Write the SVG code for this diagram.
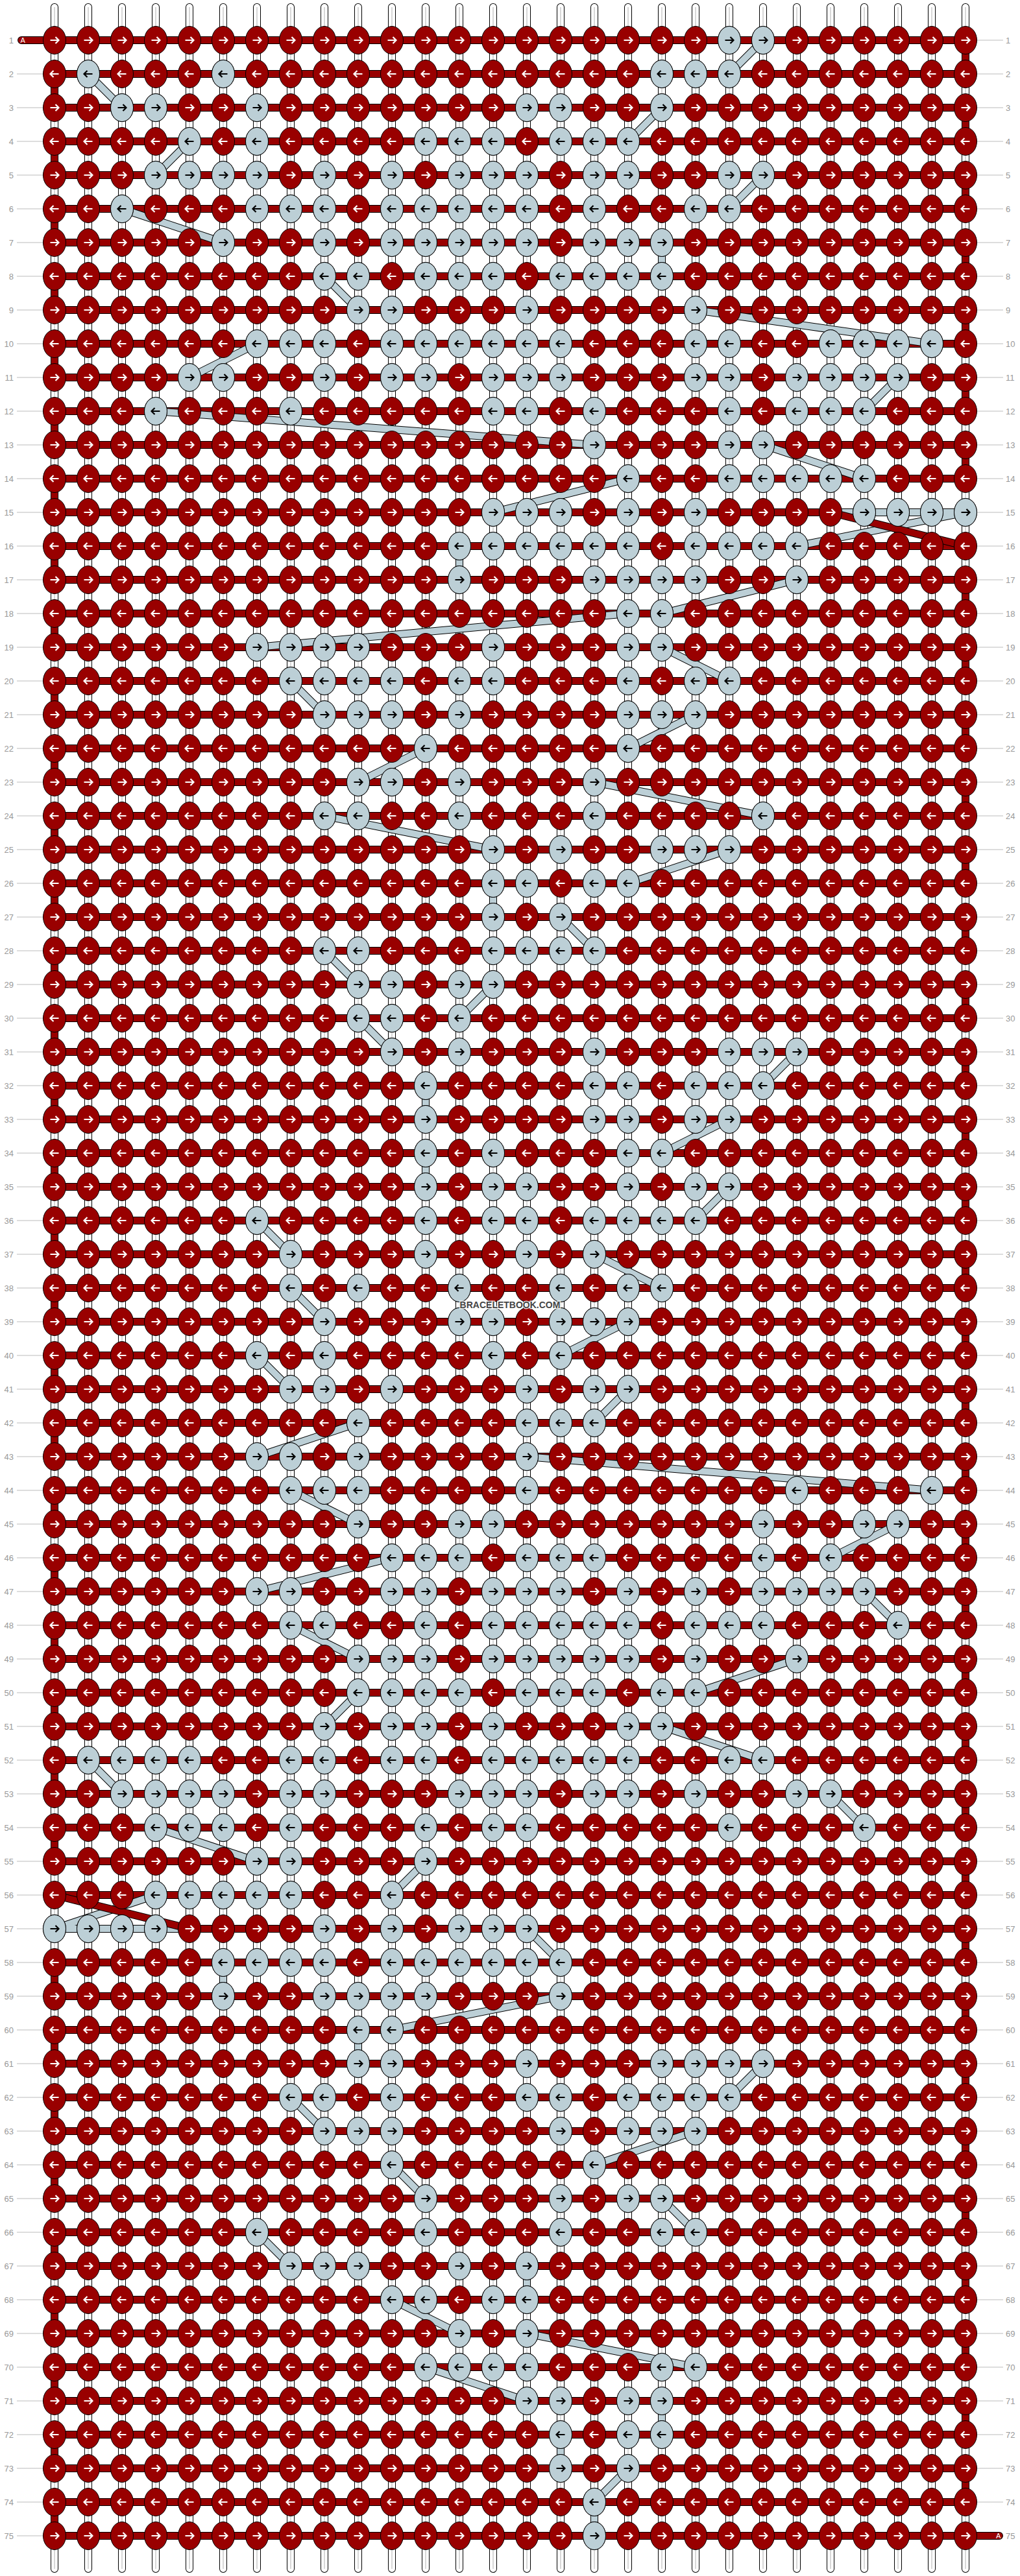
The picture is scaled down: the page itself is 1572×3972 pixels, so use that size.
<svg xmlns="http://www.w3.org/2000/svg" width="1572" height="3972" viewBox="0 0 1572 3972">
<style>
text{font-family:"Liberation Sans",Arial,sans-serif}
.n{font-size:13px;fill:#999}
.ne{text-anchor:end}
.al{font-size:11px;fill:#fff}
.wm{font-size:14px;font-weight:bold;fill:#444;stroke:#fff;stroke-width:3;stroke-opacity:.8;paint-order:stroke;text-anchor:middle}
.ol{fill:none;stroke:#000;stroke-width:12}
.sw{fill:none;stroke:#fff;stroke-width:10}
.sr{fill:none;stroke:#990000;stroke-width:10}
.sl{fill:none;stroke:#bccfd6;stroke-width:10}
.gl{fill:none;stroke:#b0b0b0;stroke-width:1}
.rl{fill:none;stroke:#bbb;stroke-width:1}
.rc{stroke-linecap:round}
</style>
<defs>
<g id="d"><ellipse rx="17.5" ry="21.5" fill="#990000" stroke="#000"/><path d="M-6.5 0H6M1.5-5L6.5 0L1.5 5" fill="none" stroke="#fff" stroke-width="2.2"/></g>
<g id="e"><ellipse rx="17.5" ry="21.5" fill="#990000" stroke="#000"/><path d="M6.5 0H-6M-1.5-5L-6.5 0L-1.5 5" fill="none" stroke="#fff" stroke-width="2.2"/></g>
<g id="a"><ellipse rx="17.5" ry="21.5" fill="#bccfd6" stroke="#000"/><path d="M-6.5 0H6M1.5-5L6.5 0L1.5 5" fill="none" stroke="#000" stroke-width="2.2"/></g>
<g id="b"><ellipse rx="17.5" ry="21.5" fill="#bccfd6" stroke="#000"/><path d="M6.5 0H-6M-1.5-5L-6.5 0L-1.5 5" fill="none" stroke="#000" stroke-width="2.2"/></g>
<g id="R"><use href="#d" x="84"/><use href="#d" x="136"/><use href="#d" x="188"/><use href="#d" x="240"/><use href="#d" x="292"/><use href="#d" x="344"/><use href="#d" x="396"/><use href="#d" x="448"/><use href="#d" x="500"/><use href="#d" x="552"/><use href="#d" x="604"/><use href="#d" x="656"/><use href="#d" x="708"/><use href="#d" x="760"/><use href="#d" x="812"/><use href="#d" x="864"/><use href="#d" x="916"/><use href="#d" x="968"/><use href="#d" x="1020"/><use href="#d" x="1072"/><use href="#d" x="1124"/><use href="#d" x="1176"/><use href="#d" x="1228"/><use href="#d" x="1280"/><use href="#d" x="1332"/><use href="#d" x="1384"/><use href="#d" x="1436"/><use href="#d" x="1488"/></g>
<g id="L"><use href="#e" x="84"/><use href="#e" x="136"/><use href="#e" x="188"/><use href="#e" x="240"/><use href="#e" x="292"/><use href="#e" x="344"/><use href="#e" x="396"/><use href="#e" x="448"/><use href="#e" x="500"/><use href="#e" x="552"/><use href="#e" x="604"/><use href="#e" x="656"/><use href="#e" x="708"/><use href="#e" x="760"/><use href="#e" x="812"/><use href="#e" x="864"/><use href="#e" x="916"/><use href="#e" x="968"/><use href="#e" x="1020"/><use href="#e" x="1072"/><use href="#e" x="1124"/><use href="#e" x="1176"/><use href="#e" x="1228"/><use href="#e" x="1280"/><use href="#e" x="1332"/><use href="#e" x="1384"/><use href="#e" x="1436"/><use href="#e" x="1488"/></g>
<path id="vs" d="M84 11V3961M136 11V3961M188 11V3961M240 11V3961M292 11V3961M344 11V3961M396 11V3961M448 11V3961M500 11V3961M552 11V3961M604 11V3961M656 11V3961M708 11V3961M760 11V3961M812 11V3961M864 11V3961M916 11V3961M968 11V3961M1020 11V3961M1072 11V3961M1124 11V3961M1176 11V3961M1228 11V3961M1280 11V3961M1332 11V3961M1384 11V3961M1436 11V3961M1488 11V3961"/>
<path id="hb" d="M84 62H1488M84 114H1488M84 166H1488M84 218H1488M84 270H1488M84 322H1488M84 374H1488M84 426H1488M84 478H1488M84 530H1488M84 582H1488M84 634H1488M84 686H1488M84 738H1488M84 790H1280M84 842H1488M84 894H1488M84 946H1488M84 998H1488M84 1050H1488M84 1102H1488M84 1154H1488M84 1206H1488M84 1258H1488M84 1310H1488M84 1362H1488M84 1414H1488M84 1466H1488M84 1518H1488M84 1570H1488M84 1622H1488M84 1674H1488M84 1726H1488M84 1778H1488M84 1830H1488M84 1882H1488M84 1934H1488M84 1986H1488M84 2038H1488M84 2090H1488M84 2142H1488M84 2194H1488M84 2246H1488M84 2298H1488M84 2350H1488M84 2402H1488M84 2454H1488M84 2506H1488M84 2558H1488M84 2610H1488M84 2662H1488M84 2714H1488M84 2766H1488M84 2818H1488M84 2870H1488M84 2922H1488M292 2974H1488M84 3026H1488M84 3078H1488M84 3130H1488M84 3182H1488M84 3234H1488M84 3286H1488M84 3338H1488M84 3390H1488M84 3442H1488M84 3494H1488M84 3546H1488M84 3598H1488M84 3650H1488M84 3702H1488M84 3754H1488M84 3806H1488M84 3858H1488M84 3910H1488"/>
<path id="ab" d="M33 62H84M1488 3910H1540"/>
<path id="ec" d="M1488 62V114M1488 166V218M1488 270V322M1488 374V426M1488 478V530M1488 582V634M1488 686V738M1488 894V946M1488 998V1050M1488 1102V1154M1488 1206V1258M1488 1310V1362M1488 1414V1466M1488 1518V1570M1488 1622V1674M1488 1726V1778M1488 1830V1882M1488 1934V1986M1488 2038V2090M1488 2142V2194M1488 2246V2298M1488 2350V2402M1488 2454V2506M1488 2558V2610M1488 2662V2714M1488 2766V2818M1488 2870V2922M1488 2974V3026M1488 3078V3130M1488 3182V3234M1488 3286V3338M1488 3390V3442M1488 3494V3546M1488 3598V3650M1488 3702V3754M1488 3806V3858M84 114V166M84 218V270M84 322V374M84 426V478M84 530V582M84 634V686M84 738V790M84 842V894M84 946V998M84 1050V1102M84 1154V1206M84 1258V1310M84 1362V1414M84 1466V1518M84 1570V1622M84 1674V1726M84 1778V1830M84 1882V1934M84 1986V2038M84 2090V2142M84 2194V2246M84 2298V2350M84 2402V2454M84 2506V2558M84 2610V2662M84 2714V2766M84 2818V2870M84 3026V3078M84 3130V3182M84 3234V3286M84 3338V3390M84 3442V3494M84 3546V3598M84 3650V3702M84 3754V3806M84 3858V3910"/>
<path id="lc" d="M1280 790H1488M84 2974H292M1176 62L1124 114M136 114L188 166M1020 166L968 218M292 218L240 270M1176 270L1124 322M188 322L344 374M1020 374L1020 426M500 426L552 478M1072 478L1436 530M396 530L292 582M1384 582L1332 634M240 634L916 686M1176 686L1332 738M968 738L760 790M1488 790L1228 842M708 842L708 894M1228 894L1020 946M968 946L396 998M1020 998L1124 1050M448 1050L500 1102M1072 1102L968 1154M656 1154L552 1206M916 1206L1176 1258M500 1258L760 1310M1124 1310L968 1362M760 1362L760 1414M864 1414L916 1466M500 1466L552 1518M760 1518L708 1570M552 1570L604 1622M1228 1622L1176 1674M656 1674L656 1726M1124 1726L1020 1778M656 1778L656 1830M1124 1830L1072 1882M396 1882L448 1934M916 1934L1020 1986M448 1986L500 2038M968 2038L864 2090M396 2090L448 2142M968 2142L916 2194M552 2194L396 2246M812 2246L1436 2298M448 2298L552 2350M1384 2350L1280 2402M604 2402L396 2454M1332 2454L1384 2506M448 2506L552 2558M1228 2558L1072 2610M552 2610L500 2662M1020 2662L1176 2714M136 2714L188 2766M1280 2766L1332 2818M240 2818L396 2870M656 2870L604 2922M240 2922L84 2974M812 2974L864 3026M344 3026L344 3078M864 3078L604 3130M552 3130L552 3182M1176 3182L1124 3234M448 3234L500 3286M1072 3286L916 3338M604 3338L656 3390M1020 3390L1072 3442M396 3442L448 3494M812 3494L812 3546M604 3546L708 3598M812 3598L1072 3650M656 3650L812 3702M1020 3702L1020 3754M864 3754L864 3806M968 3806L916 3858M916 3858L916 3910"/>
<path id="rd" d="M1280 790L1488 842M84 2922L292 2974"/>
</defs>
<rect width="1572" height="3972" fill="#fff"/>
<g id="strings">
<use href="#vs" class="ol rc"/>
<use href="#vs" class="sw rc"/>
<use href="#vs" class="gl"/>
</g>
<g id="labels">
<path class="rl" d="M26 114H66M26 166H66M26 218H66M26 270H66M26 322H66M26 374H66M26 426H66M26 478H66M26 530H66M26 582H66M26 634H66M26 686H66M26 738H66M26 790H66M26 842H66M26 894H66M26 946H66M26 998H66M26 1050H66M26 1102H66M26 1154H66M26 1206H66M26 1258H66M26 1310H66M26 1362H66M26 1414H66M26 1466H66M26 1518H66M26 1570H66M26 1622H66M26 1674H66M26 1726H66M26 1778H66M26 1830H66M26 1882H66M26 1934H66M26 1986H66M26 2038H66M26 2090H66M26 2142H66M26 2194H66M26 2246H66M26 2298H66M26 2350H66M26 2402H66M26 2454H66M26 2506H66M26 2558H66M26 2610H66M26 2662H66M26 2714H66M26 2766H66M26 2818H66M26 2870H66M26 2922H66M26 2974H66M26 3026H66M26 3078H66M26 3130H66M26 3182H66M26 3234H66M26 3286H66M26 3338H66M26 3390H66M26 3442H66M26 3494H66M26 3546H66M26 3598H66M26 3650H66M26 3702H66M26 3754H66M26 3806H66M26 3858H66M26 3910H66"/>
<path class="rl" d="M1506 62H1546M1506 114H1546M1506 166H1546M1506 218H1546M1506 270H1546M1506 322H1546M1506 374H1546M1506 426H1546M1506 478H1546M1506 530H1546M1506 582H1546M1506 634H1546M1506 686H1546M1506 738H1546M1506 790H1546M1506 842H1546M1506 894H1546M1506 946H1546M1506 998H1546M1506 1050H1546M1506 1102H1546M1506 1154H1546M1506 1206H1546M1506 1258H1546M1506 1310H1546M1506 1362H1546M1506 1414H1546M1506 1466H1546M1506 1518H1546M1506 1570H1546M1506 1622H1546M1506 1674H1546M1506 1726H1546M1506 1778H1546M1506 1830H1546M1506 1882H1546M1506 1934H1546M1506 1986H1546M1506 2038H1546M1506 2090H1546M1506 2142H1546M1506 2194H1546M1506 2246H1546M1506 2298H1546M1506 2350H1546M1506 2402H1546M1506 2454H1546M1506 2506H1546M1506 2558H1546M1506 2610H1546M1506 2662H1546M1506 2714H1546M1506 2766H1546M1506 2818H1546M1506 2870H1546M1506 2922H1546M1506 2974H1546M1506 3026H1546M1506 3078H1546M1506 3130H1546M1506 3182H1546M1506 3234H1546M1506 3286H1546M1506 3338H1546M1506 3390H1546M1506 3442H1546M1506 3494H1546M1506 3546H1546M1506 3598H1546M1506 3650H1546M1506 3702H1546M1506 3754H1546M1506 3806H1546M1506 3858H1546"/>
<g class="n ne">
<text x="21" y="66.5">1</text><text x="21" y="118.5">2</text><text x="21" y="170.5">3</text><text x="21" y="222.5">4</text><text x="21" y="274.5">5</text><text x="21" y="326.5">6</text><text x="21" y="378.5">7</text><text x="21" y="430.5">8</text><text x="21" y="482.5">9</text><text x="21" y="534.5">10</text><text x="21" y="586.5">11</text><text x="21" y="638.5">12</text><text x="21" y="690.5">13</text><text x="21" y="742.5">14</text><text x="21" y="794.5">15</text><text x="21" y="846.5">16</text><text x="21" y="898.5">17</text><text x="21" y="950.5">18</text><text x="21" y="1002.5">19</text><text x="21" y="1054.5">20</text><text x="21" y="1106.5">21</text><text x="21" y="1158.5">22</text><text x="21" y="1210.5">23</text><text x="21" y="1262.5">24</text><text x="21" y="1314.5">25</text><text x="21" y="1366.5">26</text><text x="21" y="1418.5">27</text><text x="21" y="1470.5">28</text><text x="21" y="1522.5">29</text><text x="21" y="1574.5">30</text><text x="21" y="1626.5">31</text><text x="21" y="1678.5">32</text><text x="21" y="1730.5">33</text><text x="21" y="1782.5">34</text><text x="21" y="1834.5">35</text><text x="21" y="1886.5">36</text><text x="21" y="1938.5">37</text><text x="21" y="1990.5">38</text><text x="21" y="2042.5">39</text><text x="21" y="2094.5">40</text><text x="21" y="2146.5">41</text><text x="21" y="2198.5">42</text><text x="21" y="2250.5">43</text><text x="21" y="2302.5">44</text><text x="21" y="2354.5">45</text><text x="21" y="2406.5">46</text><text x="21" y="2458.5">47</text><text x="21" y="2510.5">48</text><text x="21" y="2562.5">49</text><text x="21" y="2614.5">50</text><text x="21" y="2666.5">51</text><text x="21" y="2718.5">52</text><text x="21" y="2770.5">53</text><text x="21" y="2822.5">54</text><text x="21" y="2874.5">55</text><text x="21" y="2926.5">56</text><text x="21" y="2978.5">57</text><text x="21" y="3030.5">58</text><text x="21" y="3082.5">59</text><text x="21" y="3134.5">60</text><text x="21" y="3186.5">61</text><text x="21" y="3238.5">62</text><text x="21" y="3290.5">63</text><text x="21" y="3342.5">64</text><text x="21" y="3394.5">65</text><text x="21" y="3446.5">66</text><text x="21" y="3498.5">67</text><text x="21" y="3550.5">68</text><text x="21" y="3602.5">69</text><text x="21" y="3654.5">70</text><text x="21" y="3706.5">71</text><text x="21" y="3758.5">72</text><text x="21" y="3810.5">73</text><text x="21" y="3862.5">74</text><text x="21" y="3914.5">75</text>
</g>
<g class="n">
<text x="1550" y="66.5">1</text><text x="1550" y="118.5">2</text><text x="1550" y="170.5">3</text><text x="1550" y="222.5">4</text><text x="1550" y="274.5">5</text><text x="1550" y="326.5">6</text><text x="1550" y="378.5">7</text><text x="1550" y="430.5">8</text><text x="1550" y="482.5">9</text><text x="1550" y="534.5">10</text><text x="1550" y="586.5">11</text><text x="1550" y="638.5">12</text><text x="1550" y="690.5">13</text><text x="1550" y="742.5">14</text><text x="1550" y="794.5">15</text><text x="1550" y="846.5">16</text><text x="1550" y="898.5">17</text><text x="1550" y="950.5">18</text><text x="1550" y="1002.5">19</text><text x="1550" y="1054.5">20</text><text x="1550" y="1106.5">21</text><text x="1550" y="1158.5">22</text><text x="1550" y="1210.5">23</text><text x="1550" y="1262.5">24</text><text x="1550" y="1314.5">25</text><text x="1550" y="1366.5">26</text><text x="1550" y="1418.5">27</text><text x="1550" y="1470.5">28</text><text x="1550" y="1522.5">29</text><text x="1550" y="1574.5">30</text><text x="1550" y="1626.5">31</text><text x="1550" y="1678.5">32</text><text x="1550" y="1730.5">33</text><text x="1550" y="1782.5">34</text><text x="1550" y="1834.5">35</text><text x="1550" y="1886.5">36</text><text x="1550" y="1938.5">37</text><text x="1550" y="1990.5">38</text><text x="1550" y="2042.5">39</text><text x="1550" y="2094.5">40</text><text x="1550" y="2146.5">41</text><text x="1550" y="2198.5">42</text><text x="1550" y="2250.5">43</text><text x="1550" y="2302.5">44</text><text x="1550" y="2354.5">45</text><text x="1550" y="2406.5">46</text><text x="1550" y="2458.5">47</text><text x="1550" y="2510.5">48</text><text x="1550" y="2562.5">49</text><text x="1550" y="2614.5">50</text><text x="1550" y="2666.5">51</text><text x="1550" y="2718.5">52</text><text x="1550" y="2770.5">53</text><text x="1550" y="2822.5">54</text><text x="1550" y="2874.5">55</text><text x="1550" y="2926.5">56</text><text x="1550" y="2978.5">57</text><text x="1550" y="3030.5">58</text><text x="1550" y="3082.5">59</text><text x="1550" y="3134.5">60</text><text x="1550" y="3186.5">61</text><text x="1550" y="3238.5">62</text><text x="1550" y="3290.5">63</text><text x="1550" y="3342.5">64</text><text x="1550" y="3394.5">65</text><text x="1550" y="3446.5">66</text><text x="1550" y="3498.5">67</text><text x="1550" y="3550.5">68</text><text x="1550" y="3602.5">69</text><text x="1550" y="3654.5">70</text><text x="1550" y="3706.5">71</text><text x="1550" y="3758.5">72</text><text x="1550" y="3810.5">73</text><text x="1550" y="3862.5">74</text><text x="1550" y="3914.5">75</text>
</g>
</g>
<g id="connectors">
<use href="#hb" class="ol"/>
<use href="#hb" class="sr"/>
<use href="#ab" class="ol rc"/>
<use href="#ab" class="sr rc"/>
<text x="31.5" y="66" class="al">A</text>
<text x="1535" y="3914" class="al">A</text>
<use href="#ec" class="ol"/>
<use href="#ec" class="sr"/>
<use href="#lc" class="ol"/>
<use href="#lc" class="sl"/>
<use href="#rd" class="ol"/>
<use href="#rd" class="sr"/>
</g>
<g id="knots">
<g id="row-1" transform="translate(0 62)"><use href="#R"/><use href="#a" x="1124"/><use href="#a" x="1176"/></g>
<g id="row-2" transform="translate(0 114)"><use href="#L"/><use href="#b" x="136"/><use href="#b" x="344"/><use href="#b" x="1020"/><use href="#b" x="1072"/><use href="#b" x="1124"/></g>
<g id="row-3" transform="translate(0 166)"><use href="#R"/><use href="#a" x="188"/><use href="#a" x="240"/><use href="#a" x="396"/><use href="#a" x="812"/><use href="#a" x="864"/><use href="#a" x="1020"/></g>
<g id="row-4" transform="translate(0 218)"><use href="#L"/><use href="#b" x="292"/><use href="#b" x="396"/><use href="#b" x="656"/><use href="#b" x="708"/><use href="#b" x="760"/><use href="#b" x="864"/><use href="#b" x="916"/><use href="#b" x="968"/></g>
<g id="row-5" transform="translate(0 270)"><use href="#R"/><use href="#a" x="240"/><use href="#a" x="292"/><use href="#a" x="344"/><use href="#a" x="396"/><use href="#a" x="500"/><use href="#a" x="604"/><use href="#a" x="708"/><use href="#a" x="760"/><use href="#a" x="812"/><use href="#a" x="916"/><use href="#a" x="968"/><use href="#a" x="1124"/><use href="#a" x="1176"/></g>
<g id="row-6" transform="translate(0 322)"><use href="#L"/><use href="#b" x="188"/><use href="#b" x="396"/><use href="#b" x="448"/><use href="#b" x="500"/><use href="#b" x="604"/><use href="#b" x="656"/><use href="#b" x="708"/><use href="#b" x="760"/><use href="#b" x="812"/><use href="#b" x="916"/><use href="#b" x="1072"/><use href="#b" x="1124"/></g>
<g id="row-7" transform="translate(0 374)"><use href="#R"/><use href="#a" x="344"/><use href="#a" x="500"/><use href="#a" x="604"/><use href="#a" x="656"/><use href="#a" x="708"/><use href="#a" x="760"/><use href="#a" x="812"/><use href="#a" x="916"/><use href="#a" x="968"/><use href="#a" x="1020"/></g>
<g id="row-8" transform="translate(0 426)"><use href="#L"/><use href="#b" x="500"/><use href="#b" x="552"/><use href="#b" x="656"/><use href="#b" x="708"/><use href="#b" x="760"/><use href="#b" x="864"/><use href="#b" x="916"/><use href="#b" x="968"/><use href="#b" x="1020"/></g>
<g id="row-9" transform="translate(0 478)"><use href="#R"/><use href="#a" x="552"/><use href="#a" x="604"/><use href="#a" x="812"/><use href="#a" x="1072"/></g>
<g id="row-10" transform="translate(0 530)"><use href="#L"/><use href="#b" x="396"/><use href="#b" x="448"/><use href="#b" x="500"/><use href="#b" x="604"/><use href="#b" x="656"/><use href="#b" x="708"/><use href="#b" x="760"/><use href="#b" x="812"/><use href="#b" x="864"/><use href="#b" x="1072"/><use href="#b" x="1124"/><use href="#b" x="1280"/><use href="#b" x="1332"/><use href="#b" x="1384"/><use href="#b" x="1436"/></g>
<g id="row-11" transform="translate(0 582)"><use href="#R"/><use href="#a" x="292"/><use href="#a" x="344"/><use href="#a" x="500"/><use href="#a" x="604"/><use href="#a" x="656"/><use href="#a" x="760"/><use href="#a" x="812"/><use href="#a" x="864"/><use href="#a" x="1072"/><use href="#a" x="1124"/><use href="#a" x="1228"/><use href="#a" x="1280"/><use href="#a" x="1332"/><use href="#a" x="1384"/></g>
<g id="row-12" transform="translate(0 634)"><use href="#L"/><use href="#b" x="240"/><use href="#b" x="448"/><use href="#b" x="760"/><use href="#b" x="812"/><use href="#b" x="916"/><use href="#b" x="1124"/><use href="#b" x="1228"/><use href="#b" x="1280"/><use href="#b" x="1332"/></g>
<g id="row-13" transform="translate(0 686)"><use href="#R"/><use href="#a" x="916"/><use href="#a" x="1124"/><use href="#a" x="1176"/></g>
<g id="row-14" transform="translate(0 738)"><use href="#L"/><use href="#b" x="968"/><use href="#b" x="1124"/><use href="#b" x="1176"/><use href="#b" x="1228"/><use href="#b" x="1280"/><use href="#b" x="1332"/></g>
<g id="row-15" transform="translate(0 790)"><use href="#R"/><use href="#a" x="760"/><use href="#a" x="812"/><use href="#a" x="864"/><use href="#a" x="968"/><use href="#a" x="1072"/><use href="#a" x="1332"/><use href="#a" x="1384"/><use href="#a" x="1436"/><use href="#a" x="1488"/></g>
<g id="row-16" transform="translate(0 842)"><use href="#L"/><use href="#b" x="708"/><use href="#b" x="760"/><use href="#b" x="812"/><use href="#b" x="864"/><use href="#b" x="916"/><use href="#b" x="968"/><use href="#b" x="1072"/><use href="#b" x="1124"/><use href="#b" x="1176"/><use href="#b" x="1228"/></g>
<g id="row-17" transform="translate(0 894)"><use href="#R"/><use href="#a" x="708"/><use href="#a" x="916"/><use href="#a" x="968"/><use href="#a" x="1020"/><use href="#a" x="1072"/><use href="#a" x="1228"/></g>
<g id="row-18" transform="translate(0 946)"><use href="#L"/><use href="#b" x="968"/><use href="#b" x="1020"/></g>
<g id="row-19" transform="translate(0 998)"><use href="#R"/><use href="#a" x="396"/><use href="#a" x="448"/><use href="#a" x="500"/><use href="#a" x="552"/><use href="#a" x="760"/><use href="#a" x="968"/><use href="#a" x="1020"/></g>
<g id="row-20" transform="translate(0 1050)"><use href="#L"/><use href="#b" x="448"/><use href="#b" x="500"/><use href="#b" x="552"/><use href="#b" x="604"/><use href="#b" x="708"/><use href="#b" x="760"/><use href="#b" x="968"/><use href="#b" x="1072"/><use href="#b" x="1124"/></g>
<g id="row-21" transform="translate(0 1102)"><use href="#R"/><use href="#a" x="500"/><use href="#a" x="552"/><use href="#a" x="604"/><use href="#a" x="708"/><use href="#a" x="968"/><use href="#a" x="1020"/><use href="#a" x="1072"/></g>
<g id="row-22" transform="translate(0 1154)"><use href="#L"/><use href="#b" x="656"/><use href="#b" x="968"/></g>
<g id="row-23" transform="translate(0 1206)"><use href="#R"/><use href="#a" x="552"/><use href="#a" x="604"/><use href="#a" x="708"/><use href="#a" x="916"/></g>
<g id="row-24" transform="translate(0 1258)"><use href="#L"/><use href="#b" x="500"/><use href="#b" x="552"/><use href="#b" x="708"/><use href="#b" x="916"/><use href="#b" x="1176"/></g>
<g id="row-25" transform="translate(0 1310)"><use href="#R"/><use href="#a" x="760"/><use href="#a" x="864"/><use href="#a" x="1020"/><use href="#a" x="1072"/><use href="#a" x="1124"/></g>
<g id="row-26" transform="translate(0 1362)"><use href="#L"/><use href="#b" x="760"/><use href="#b" x="812"/><use href="#b" x="916"/><use href="#b" x="968"/></g>
<g id="row-27" transform="translate(0 1414)"><use href="#R"/><use href="#a" x="760"/><use href="#a" x="864"/></g>
<g id="row-28" transform="translate(0 1466)"><use href="#L"/><use href="#b" x="500"/><use href="#b" x="552"/><use href="#b" x="760"/><use href="#b" x="812"/><use href="#b" x="864"/><use href="#b" x="916"/></g>
<g id="row-29" transform="translate(0 1518)"><use href="#R"/><use href="#a" x="552"/><use href="#a" x="604"/><use href="#a" x="708"/><use href="#a" x="760"/></g>
<g id="row-30" transform="translate(0 1570)"><use href="#L"/><use href="#b" x="552"/><use href="#b" x="604"/><use href="#b" x="708"/></g>
<g id="row-31" transform="translate(0 1622)"><use href="#R"/><use href="#a" x="604"/><use href="#a" x="708"/><use href="#a" x="916"/><use href="#a" x="1124"/><use href="#a" x="1176"/><use href="#a" x="1228"/></g>
<g id="row-32" transform="translate(0 1674)"><use href="#L"/><use href="#b" x="656"/><use href="#b" x="916"/><use href="#b" x="968"/><use href="#b" x="1072"/><use href="#b" x="1124"/><use href="#b" x="1176"/></g>
<g id="row-33" transform="translate(0 1726)"><use href="#R"/><use href="#a" x="656"/><use href="#a" x="916"/><use href="#a" x="968"/><use href="#a" x="1072"/><use href="#a" x="1124"/></g>
<g id="row-34" transform="translate(0 1778)"><use href="#L"/><use href="#b" x="656"/><use href="#b" x="760"/><use href="#b" x="968"/><use href="#b" x="1020"/></g>
<g id="row-35" transform="translate(0 1830)"><use href="#R"/><use href="#a" x="656"/><use href="#a" x="760"/><use href="#a" x="812"/><use href="#a" x="968"/><use href="#a" x="1072"/><use href="#a" x="1124"/></g>
<g id="row-36" transform="translate(0 1882)"><use href="#L"/><use href="#b" x="396"/><use href="#b" x="656"/><use href="#b" x="760"/><use href="#b" x="812"/><use href="#b" x="916"/><use href="#b" x="968"/><use href="#b" x="1020"/><use href="#b" x="1072"/></g>
<g id="row-37" transform="translate(0 1934)"><use href="#R"/><use href="#a" x="448"/><use href="#a" x="656"/><use href="#a" x="812"/><use href="#a" x="916"/></g>
<g id="row-38" transform="translate(0 1986)"><use href="#L"/><use href="#b" x="448"/><use href="#b" x="552"/><use href="#b" x="708"/><use href="#b" x="864"/><use href="#b" x="968"/><use href="#b" x="1020"/></g>
<g id="row-39" transform="translate(0 2038)"><use href="#R"/><use href="#a" x="500"/><use href="#a" x="708"/><use href="#a" x="760"/><use href="#a" x="864"/><use href="#a" x="916"/><use href="#a" x="968"/></g>
<g id="row-40" transform="translate(0 2090)"><use href="#L"/><use href="#b" x="396"/><use href="#b" x="500"/><use href="#b" x="760"/><use href="#b" x="864"/></g>
<g id="row-41" transform="translate(0 2142)"><use href="#R"/><use href="#a" x="448"/><use href="#a" x="500"/><use href="#a" x="604"/><use href="#a" x="812"/><use href="#a" x="916"/><use href="#a" x="968"/></g>
<g id="row-42" transform="translate(0 2194)"><use href="#L"/><use href="#b" x="552"/><use href="#b" x="812"/><use href="#b" x="864"/><use href="#b" x="916"/></g>
<g id="row-43" transform="translate(0 2246)"><use href="#R"/><use href="#a" x="396"/><use href="#a" x="448"/><use href="#a" x="552"/><use href="#a" x="812"/></g>
<g id="row-44" transform="translate(0 2298)"><use href="#L"/><use href="#b" x="448"/><use href="#b" x="500"/><use href="#b" x="552"/><use href="#b" x="812"/><use href="#b" x="1228"/><use href="#b" x="1436"/></g>
<g id="row-45" transform="translate(0 2350)"><use href="#R"/><use href="#a" x="552"/><use href="#a" x="708"/><use href="#a" x="760"/><use href="#a" x="1176"/><use href="#a" x="1332"/><use href="#a" x="1384"/></g>
<g id="row-46" transform="translate(0 2402)"><use href="#L"/><use href="#b" x="604"/><use href="#b" x="656"/><use href="#b" x="708"/><use href="#b" x="812"/><use href="#b" x="864"/><use href="#b" x="916"/><use href="#b" x="1176"/><use href="#b" x="1280"/></g>
<g id="row-47" transform="translate(0 2454)"><use href="#R"/><use href="#a" x="396"/><use href="#a" x="448"/><use href="#a" x="604"/><use href="#a" x="656"/><use href="#a" x="760"/><use href="#a" x="812"/><use href="#a" x="864"/><use href="#a" x="968"/><use href="#a" x="1072"/><use href="#a" x="1176"/><use href="#a" x="1228"/><use href="#a" x="1280"/><use href="#a" x="1332"/></g>
<g id="row-48" transform="translate(0 2506)"><use href="#L"/><use href="#b" x="448"/><use href="#b" x="500"/><use href="#b" x="656"/><use href="#b" x="760"/><use href="#b" x="812"/><use href="#b" x="864"/><use href="#b" x="916"/><use href="#b" x="968"/><use href="#b" x="1072"/><use href="#b" x="1124"/><use href="#b" x="1176"/><use href="#b" x="1384"/></g>
<g id="row-49" transform="translate(0 2558)"><use href="#R"/><use href="#a" x="552"/><use href="#a" x="604"/><use href="#a" x="656"/><use href="#a" x="760"/><use href="#a" x="812"/><use href="#a" x="864"/><use href="#a" x="916"/><use href="#a" x="968"/><use href="#a" x="1072"/><use href="#a" x="1228"/></g>
<g id="row-50" transform="translate(0 2610)"><use href="#L"/><use href="#b" x="552"/><use href="#b" x="604"/><use href="#b" x="656"/><use href="#b" x="708"/><use href="#b" x="812"/><use href="#b" x="864"/><use href="#b" x="916"/><use href="#b" x="1020"/><use href="#b" x="1072"/></g>
<g id="row-51" transform="translate(0 2662)"><use href="#R"/><use href="#a" x="500"/><use href="#a" x="604"/><use href="#a" x="656"/><use href="#a" x="760"/><use href="#a" x="968"/><use href="#a" x="1020"/></g>
<g id="row-52" transform="translate(0 2714)"><use href="#L"/><use href="#b" x="136"/><use href="#b" x="188"/><use href="#b" x="240"/><use href="#b" x="292"/><use href="#b" x="448"/><use href="#b" x="500"/><use href="#b" x="604"/><use href="#b" x="656"/><use href="#b" x="760"/><use href="#b" x="812"/><use href="#b" x="864"/><use href="#b" x="916"/><use href="#b" x="968"/><use href="#b" x="1124"/><use href="#b" x="1176"/></g>
<g id="row-53" transform="translate(0 2766)"><use href="#R"/><use href="#a" x="188"/><use href="#a" x="240"/><use href="#a" x="292"/><use href="#a" x="344"/><use href="#a" x="448"/><use href="#a" x="500"/><use href="#a" x="708"/><use href="#a" x="760"/><use href="#a" x="812"/><use href="#a" x="916"/><use href="#a" x="968"/><use href="#a" x="1072"/><use href="#a" x="1228"/><use href="#a" x="1280"/></g>
<g id="row-54" transform="translate(0 2818)"><use href="#L"/><use href="#b" x="240"/><use href="#b" x="292"/><use href="#b" x="344"/><use href="#b" x="448"/><use href="#b" x="656"/><use href="#b" x="760"/><use href="#b" x="812"/><use href="#b" x="1124"/><use href="#b" x="1332"/></g>
<g id="row-55" transform="translate(0 2870)"><use href="#R"/><use href="#a" x="396"/><use href="#a" x="448"/><use href="#a" x="656"/></g>
<g id="row-56" transform="translate(0 2922)"><use href="#L"/><use href="#b" x="240"/><use href="#b" x="292"/><use href="#b" x="344"/><use href="#b" x="396"/><use href="#b" x="448"/><use href="#b" x="604"/></g>
<g id="row-57" transform="translate(0 2974)"><use href="#R"/><use href="#a" x="84"/><use href="#a" x="136"/><use href="#a" x="188"/><use href="#a" x="240"/><use href="#a" x="500"/><use href="#a" x="604"/><use href="#a" x="708"/><use href="#a" x="760"/><use href="#a" x="812"/></g>
<g id="row-58" transform="translate(0 3026)"><use href="#L"/><use href="#b" x="344"/><use href="#b" x="396"/><use href="#b" x="448"/><use href="#b" x="500"/><use href="#b" x="604"/><use href="#b" x="656"/><use href="#b" x="708"/><use href="#b" x="760"/><use href="#b" x="812"/><use href="#b" x="864"/></g>
<g id="row-59" transform="translate(0 3078)"><use href="#R"/><use href="#a" x="344"/><use href="#a" x="500"/><use href="#a" x="552"/><use href="#a" x="604"/><use href="#a" x="656"/><use href="#a" x="864"/></g>
<g id="row-60" transform="translate(0 3130)"><use href="#L"/><use href="#b" x="552"/><use href="#b" x="604"/></g>
<g id="row-61" transform="translate(0 3182)"><use href="#R"/><use href="#a" x="552"/><use href="#a" x="604"/><use href="#a" x="812"/><use href="#a" x="1020"/><use href="#a" x="1072"/><use href="#a" x="1124"/><use href="#a" x="1176"/></g>
<g id="row-62" transform="translate(0 3234)"><use href="#L"/><use href="#b" x="448"/><use href="#b" x="500"/><use href="#b" x="604"/><use href="#b" x="812"/><use href="#b" x="864"/><use href="#b" x="968"/><use href="#b" x="1020"/><use href="#b" x="1072"/><use href="#b" x="1124"/></g>
<g id="row-63" transform="translate(0 3286)"><use href="#R"/><use href="#a" x="500"/><use href="#a" x="552"/><use href="#a" x="604"/><use href="#a" x="864"/><use href="#a" x="968"/><use href="#a" x="1020"/><use href="#a" x="1072"/></g>
<g id="row-64" transform="translate(0 3338)"><use href="#L"/><use href="#b" x="604"/><use href="#b" x="916"/></g>
<g id="row-65" transform="translate(0 3390)"><use href="#R"/><use href="#a" x="656"/><use href="#a" x="864"/><use href="#a" x="968"/><use href="#a" x="1020"/></g>
<g id="row-66" transform="translate(0 3442)"><use href="#L"/><use href="#b" x="396"/><use href="#b" x="656"/><use href="#b" x="864"/><use href="#b" x="1020"/><use href="#b" x="1072"/></g>
<g id="row-67" transform="translate(0 3494)"><use href="#R"/><use href="#a" x="448"/><use href="#a" x="500"/><use href="#a" x="552"/><use href="#a" x="708"/><use href="#a" x="812"/></g>
<g id="row-68" transform="translate(0 3546)"><use href="#L"/><use href="#b" x="604"/><use href="#b" x="656"/><use href="#b" x="760"/><use href="#b" x="812"/></g>
<g id="row-69" transform="translate(0 3598)"><use href="#R"/><use href="#a" x="708"/><use href="#a" x="812"/></g>
<g id="row-70" transform="translate(0 3650)"><use href="#L"/><use href="#b" x="656"/><use href="#b" x="708"/><use href="#b" x="760"/><use href="#b" x="812"/><use href="#b" x="1020"/><use href="#b" x="1072"/></g>
<g id="row-71" transform="translate(0 3702)"><use href="#R"/><use href="#a" x="812"/><use href="#a" x="864"/><use href="#a" x="968"/><use href="#a" x="1020"/></g>
<g id="row-72" transform="translate(0 3754)"><use href="#L"/><use href="#b" x="864"/><use href="#b" x="968"/><use href="#b" x="1020"/></g>
<g id="row-73" transform="translate(0 3806)"><use href="#R"/><use href="#a" x="864"/><use href="#a" x="968"/></g>
<g id="row-74" transform="translate(0 3858)"><use href="#L"/><use href="#b" x="916"/></g>
<g id="row-75" transform="translate(0 3910)"><use href="#R"/><use href="#a" x="916"/></g>
</g>
<text x="786" y="2017" class="wm">BRACELETBOOK.COM</text>
</svg>
